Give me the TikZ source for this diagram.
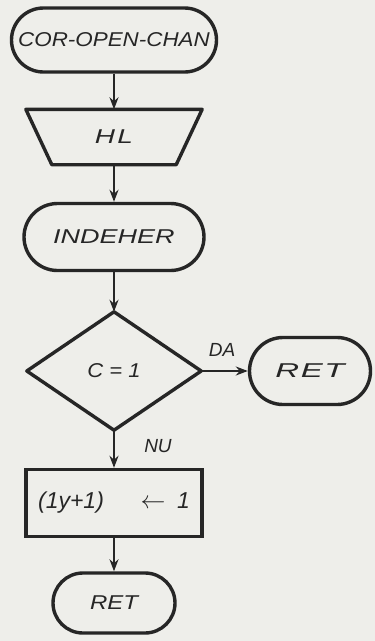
\documentclass[tikz,border=0pt]{standalone}
\usepackage{fontspec}
\newfontfamily\hand{Liberation Sans}
\usetikzlibrary{shapes.misc,arrows.meta}
\definecolor{ink}{HTML}{262626}
\definecolor{paper}{HTML}{EEEEEA}
\newcommand{\wide}[2]{\addfontfeature{FakeStretch=#1,LetterSpace=#2}}
\tikzset{
  txt/.style={text=ink, font=\hand\itshape\fontsize{20}{20}\selectfont, inner sep=0pt},
  box/.style={txt, draw=ink, line width=3.4pt},
  plain/.style={txt, rectangle},
  term/.style={box, rounded rectangle},
  proc/.style={box, rectangle},
  outline/.style={draw=ink, line width=3.4pt, line join=round},
  flow/.style={draw=ink, line width=1.8pt, -{Stealth[length=12pt,width=9pt]}},
  lbl/.style={txt, font=\hand\itshape\fontsize{19}{19}\selectfont}
}
\begin{document}
\begin{tikzpicture}[x=1pt,y=-1pt]
\fill[paper] (0,0) rectangle (375,641);
\useasboundingbox (0,0) rectangle (375,641);
\node[term, minimum width=205pt, minimum height=64pt] (start) at (114,40) {\wide{1.12}{0}COR-OPEN-CHAN};
\node[plain, minimum width=176pt, minimum height=55pt] (hl) at (114,137) {\wide{1.4}{12}HL};
\draw[outline] (hl.north west) -- (hl.north east) -- ([xshift=-26pt]hl.south east) -- ([xshift=26pt]hl.south west) -- cycle;
\node[term, minimum width=180pt, minimum height=67pt] (ind) at (114,237) {\wide{1.35}{0}INDEHER};
\node[plain, minimum width=174pt, minimum height=118pt] (cond) at (114,371) {\wide{1.1}{0}C = 1};
\draw[outline] (cond.north) -- (cond.east) -- (cond.south) -- (cond.west) -- cycle;
\node[term, minimum width=121pt, minimum height=67pt] (ret1) at (310,371) {\wide{1.65}{8}RET};
\node[proc, minimum width=176pt, minimum height=67pt] (asg) at (114,503) {\fontsize{23}{23}\selectfont(1y+1)\hspace{1.6em}$\leftarrow$\hspace{0.5em}1};
\node[term, minimum width=122pt, minimum height=60pt] (ret2) at (114,603) {\wide{1.2}{0}RET};
\draw[flow] (start.south) -- (hl.north);
\draw[flow] (hl.south) -- (ind.north);
\draw[flow] (ind.south) -- (cond.north);
\draw[flow] (cond.east) -- (ret1.west);
\draw[flow] (cond.south) -- (asg.north);
\draw[flow] (asg.south) -- (ret2.north);
\node[lbl] (da) at (222,350) {DA};
\node[lbl] (nu) at (158,446) {NU};
\end{tikzpicture}
\end{document}
